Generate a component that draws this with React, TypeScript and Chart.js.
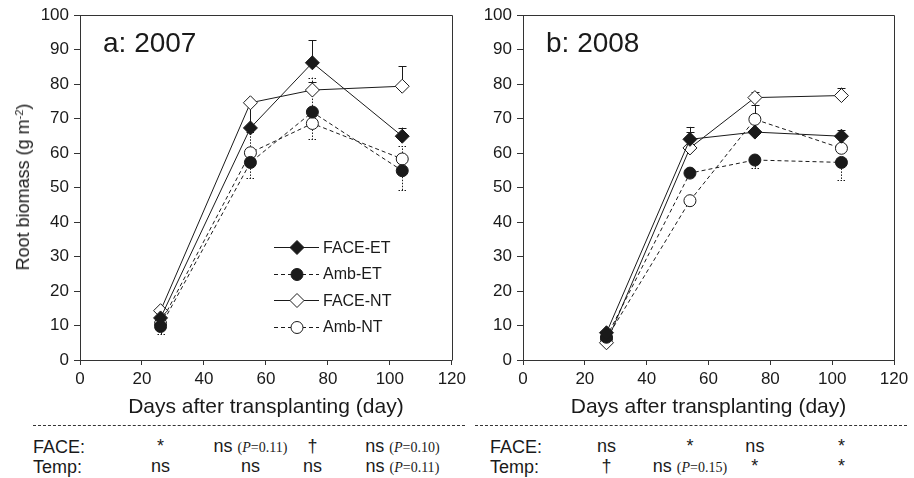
import React, { useEffect, useRef } from 'react';
import { Chart, registerables } from 'chart.js';

Chart.register(...registerables);

// ---------- data ----------
const seriesNames = ['FACE-ET', 'Amb-ET', 'FACE-NT', 'Amb-NT'];

const days2007 = [26, 55, 75, 104];
const faceET2007 = [12.2, 67.3, 86.2, 64.9];
const ambET2007 = [9.7, 57.3, 71.9, 54.9];
const faceNT2007 = [14.3, 74.6, 78.3, 79.4];
const ambNT2007 = [10.6, 60.1, 68.6, 58.3];
// signed error bars: positive drawn upward, negative drawn downward
const faceETErr2007 = [0, 7.0, 6.6, 2.5];
const ambETErr2007 = [-2.2, -4.6, 10.0, -5.6];
const faceNTErr2007 = [0, 0, 2.4, 5.8];
const ambNTErr2007 = [0, 6.0, -4.6, 3.7];

const days2008 = [27, 54, 75, 103];
const faceET2008 = [7.9, 64.0, 66.1, 64.9];
const ambET2008 = [6.6, 54.2, 58.0, 57.3];
const faceNT2008 = [5.0, 61.5, 76.1, 76.7];
const ambNT2008 = [6.2, 46.2, 69.8, 61.4];
const faceETErr2008 = [0, 3.6, 8.0, 1.8];
const ambETErr2008 = [0, 0, -2.3, -5.0];
const faceNTErr2008 = [0, 4.5, 1.6, 2.3];
const ambNTErr2008 = [0, 0, 0, 0];

const sigFace2007 = ['*', 'ns', '†', 'ns'];
const pFace2007 = ['', '0.11', '', '0.10'];
const sigTemp2007 = ['ns', 'ns', 'ns', 'ns'];
const pTemp2007 = ['', '', '', '0.11'];
const sigFace2008 = ['ns', '*', 'ns', '*'];
const pFace2008 = ['', '', '', ''];
const sigTemp2008 = ['†', 'ns', '*', '*'];
const pTemp2008 = ['', '0.15', '', ''];

const X_MIN = 0;
const X_MAX = 120;
const X_STEP = 20;
const Y_MIN = 0;
const Y_MAX = 100;
const Y_STEP = 10;

// ---------- styles ----------
const SANS = '"Liberation Sans", Arial, Helvetica, sans-serif';
const SERIF = '"Liberation Serif", "Times New Roman", serif';
const INK = '#1a1a1a';
const AXIS = '#333';

const seriesStyles = [
  { shape: 'diamond', filled: true, dashed: false },
  { shape: 'circle', filled: true, dashed: true },
  { shape: 'diamond', filled: false, dashed: false },
  { shape: 'circle', filled: false, dashed: true },
];

function drawMarker(ctx, x, y, style) {
  ctx.save();
  ctx.setLineDash([]);
  ctx.lineWidth = 1;
  ctx.strokeStyle = INK;
  ctx.fillStyle = style.filled ? INK : '#fff';
  ctx.beginPath();
  if (style.shape === 'diamond') {
    const r = 7;
    ctx.moveTo(x, y - r);
    ctx.lineTo(x + r, y);
    ctx.lineTo(x, y + r);
    ctx.lineTo(x - r, y);
    ctx.closePath();
  } else {
    ctx.arc(x, y, 6, 0, Math.PI * 2);
  }
  ctx.fill();
  ctx.stroke();
  ctx.restore();
}

function makePlugin(panel) {
  return {
    id: 'extras',
    beforeDatasetsDraw(chart) {
      const ctx = chart.ctx;
      const yScale = chart.scales.y;
      ctx.save();
      ctx.strokeStyle = INK;
      ctx.lineWidth = 1;
      panel.errs.forEach((errArr, i) => {
        const meta = chart.getDatasetMeta(i);
        const style = seriesStyles[i];
        ctx.setLineDash(style.dashed ? [1.5, 1.5] : []);
        errArr.forEach((err, j) => {
          if (!err) return;
          const pt = meta.data[j];
          const v = panel.values[i][j];
          const x = Math.round(pt.x) + 0.5;
          const y1 = yScale.getPixelForValue(v + err);
          ctx.beginPath();
          ctx.moveTo(x, pt.y);
          ctx.lineTo(x, y1);
          ctx.moveTo(x - 4, Math.round(y1) + 0.5);
          ctx.lineTo(x + 4, Math.round(y1) + 0.5);
          ctx.stroke();
        });
      });
      ctx.restore();
    },
    afterDraw(chart) {
      const ctx = chart.ctx;
      const { left, right, top, bottom } = chart.chartArea;
      ctx.save();
      // frame (top + right)
      ctx.strokeStyle = AXIS;
      ctx.lineWidth = 1;
      ctx.setLineDash([]);
      ctx.beginPath();
      ctx.moveTo(Math.round(left) + 0.5, Math.round(top) + 0.5);
      ctx.lineTo(Math.round(right) + 0.5, Math.round(top) + 0.5);
      ctx.lineTo(Math.round(right) + 0.5, Math.round(bottom) + 0.5);
      ctx.stroke();
      // panel label
      ctx.fillStyle = INK;
      ctx.font = '28px ' + SANS;
      ctx.textBaseline = 'alphabetic';
      ctx.textAlign = 'left';
      ctx.fillText(panel.label, left + 23, top + 37);
      // legend
      if (panel.legend) {
        const lx0 = left + 194;
        const lx1 = left + 239;
        const mx = left + 217;
        const tx = left + 243;
        seriesNames.forEach((name, i) => {
          const y = top + 232 + i * 26.5;
          const style = seriesStyles[i];
          ctx.strokeStyle = INK;
          ctx.lineWidth = 1;
          ctx.setLineDash(style.dashed ? [4, 3] : []);
          ctx.beginPath();
          ctx.moveTo(lx0, Math.round(y) + 0.5);
          ctx.lineTo(lx1, Math.round(y) + 0.5);
          ctx.stroke();
          drawMarker(ctx, mx, Math.round(y) + 0.5, style);
          ctx.fillStyle = INK;
          ctx.font = '16px ' + SANS;
          ctx.textBaseline = 'middle';
          ctx.fillText(name, tx, y + 1);
        });
      }
      ctx.restore();
    },
  };
}

function buildConfig(panel) {
  const datasets = seriesNames.map((name, i) => {
    const style = seriesStyles[i];
    return {
      label: name,
      data: panel.days.map((d, j) => ({ x: d, y: panel.values[i][j] })),
      showLine: true,
      borderColor: INK,
      borderWidth: 1,
      borderDash: style.dashed ? [4, 3] : [],
      pointStyle: style.shape === 'diamond' ? 'rectRot' : 'circle',
      pointRadius: style.shape === 'diamond' ? 7 : 6,
      pointBackgroundColor: style.filled ? INK : '#fff',
      pointBorderColor: INK,
      pointBorderWidth: 1,
      pointHoverRadius: style.shape === 'diamond' ? 7 : 6,
    };
  });
  return {
    type: 'scatter',
    data: { datasets },
    plugins: [makePlugin(panel)],
    options: {
      responsive: false,
      maintainAspectRatio: false,
      animation: false,
      events: [],
      layout: { padding: { top: 15, right: panel.padRight, left: 0, bottom: 0 } },
      plugins: { legend: { display: false }, tooltip: { enabled: false } },
      scales: {
        x: {
          type: 'linear',
          min: X_MIN,
          max: X_MAX,
          afterFit: (s) => { s.height = 60; },
          ticks: { stepSize: X_STEP, color: INK, padding: 4, font: { family: SANS, size: 17 } },
          grid: { drawOnChartArea: false, drawTicks: true, tickLength: 5, color: AXIS },
          border: { display: true, color: AXIS },
          title: {
            display: true,
            text: 'Days after transplanting (day)',
            color: INK,
            padding: { top: 0, bottom: 0 },
            font: { family: SANS, size: 21 },
          },
        },
        y: {
          type: 'linear',
          min: Y_MIN,
          max: Y_MAX,
          afterFit: (s) => { s.width = panel.yWidth; },
          ticks: { stepSize: Y_STEP, color: INK, padding: 5, font: { family: SANS, size: 17 } },
          grid: { drawOnChartArea: false, drawTicks: true, tickLength: 6, color: AXIS },
          border: { display: true, color: AXIS },
        },
      },
    },
  };
}

const panelA = {
  label: 'a: 2007',
  days: days2007,
  values: [faceET2007, ambET2007, faceNT2007, ambNT2007],
  errs: [faceETErr2007, ambETErr2007, faceNTErr2007, ambNTErr2007],
  legend: true,
  yWidth: 80,
  padRight: 18,
};
const panelB = {
  label: 'b: 2008',
  days: days2008,
  values: [faceET2008, ambET2008, faceNT2008, ambNT2008],
  errs: [faceETErr2008, ambETErr2008, faceNTErr2008, ambNTErr2008],
  legend: false,
  yWidth: 53,
  padRight: 20,
};

function Panel({ panel, left, width, height }) {
  const ref = useRef(null);
  useEffect(() => {
    const chart = new Chart(ref.current, buildConfig(panel));
    return () => chart.destroy();
  }, []);
  return (
    <canvas
      ref={ref}
      width={width}
      height={height}
      style={{ position: 'absolute', left, top: 0, width, height }}
    />
  );
}

function SigCell({ x, top, mark, p }) {
  return (
    <div
      style={{
        position: 'absolute',
        left: x,
        top,
        transform: 'translateX(-50%)',
        whiteSpace: 'nowrap',
        fontSize: 18,
        lineHeight: '20px',
      }}
    >
      <span>{mark}</span>
      {p ? (
        <span style={{ fontFamily: SERIF, fontSize: 14, marginLeft: 5 }}>
          (<i>P</i>=<span>{p}</span>)
        </span>
      ) : null}
    </div>
  );
}

function SigTable({ days, plotLeft, plotWidth, labelLeft, face, pFace, temp, pTemp }) {
  const toX = (d) => plotLeft + ((d - X_MIN) / (X_MAX - X_MIN)) * plotWidth;
  return (
    <>
      <div style={{ position: 'absolute', left: labelLeft, top: 437, fontSize: 18, lineHeight: '20px' }}>FACE:</div>
      <div style={{ position: 'absolute', left: labelLeft, top: 457, fontSize: 18, lineHeight: '20px' }}>Temp:</div>
      {days.map((d, j) => (
        <SigCell key={'f' + j} x={toX(d)} top={436} mark={face[j]} p={pFace[j]} />
      ))}
      {days.map((d, j) => (
        <SigCell key={'t' + j} x={toX(d)} top={456} mark={temp[j]} p={pTemp[j]} />
      ))}
    </>
  );
}

export default function App() {
  return (
    <div
      style={{
        position: 'absolute',
        left: 0,
        top: 0,
        width: 914,
        height: 478,
        background: '#fff',
        fontFamily: SANS,
        color: INK,
        overflow: 'hidden',
      }}
    >
      <Panel panel={panelA} left={0} width={470} height={420} />
      <Panel panel={panelB} left={470} width={444} height={420} />
      <div
        style={{
          position: 'absolute',
          left: 23,
          top: 187,
          transform: 'translate(-50%, -50%) rotate(-90deg)',
          whiteSpace: 'nowrap',
          fontSize: 18,
          lineHeight: '20px',
        }}
      >
        Root biomass (g m<sup style={{ fontSize: 11, verticalAlign: 'top', lineHeight: '12px' }}>-2</sup>)
      </div>
      <div style={{ position: 'absolute', left: 33, width: 432, top: 425, borderTop: '1px dashed #333' }} />
      <div style={{ position: 'absolute', left: 475, width: 432, top: 425, borderTop: '1px dashed #333' }} />
      <SigTable
        days={days2007}
        plotLeft={80}
        plotWidth={372}
        labelLeft={33}
        face={sigFace2007}
        pFace={pFace2007}
        temp={sigTemp2007}
        pTemp={pTemp2007}
      />
      <SigTable
        days={days2008}
        plotLeft={523}
        plotWidth={371}
        labelLeft={490}
        face={sigFace2008}
        pFace={pFace2008}
        temp={sigTemp2008}
        pTemp={pTemp2008}
      />
    </div>
  );
}
